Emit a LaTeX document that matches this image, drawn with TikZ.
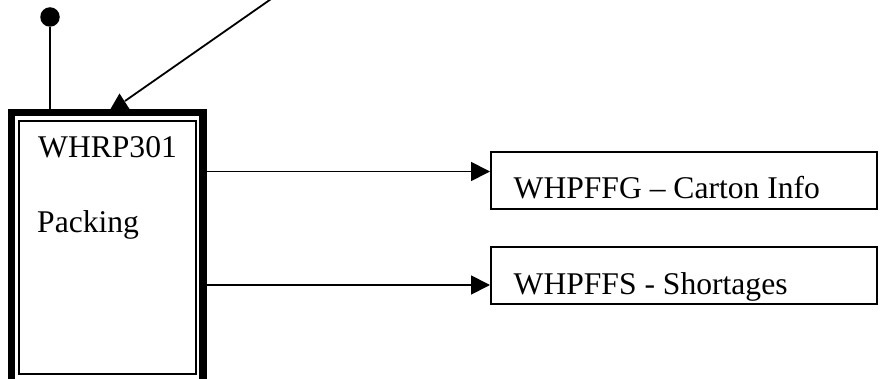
\documentclass[tikz,border=0pt]{standalone}
\usepackage{fontspec}
\setmainfont{Liberation Serif}
\usetikzlibrary{arrows.meta,calc}
\begin{document}
\begin{tikzpicture}[x=1pt,y=-1pt,
  lbl/.style={anchor=base west,inner sep=0pt,font=\fontsize{31.6}{36}\selectfont},
  outbox/.style={draw,line width=2pt,minimum width=386pt,minimum height=57pt,inner sep=0pt},
  conn/.style={line width=1.8pt},
  arr/.style={conn,-{Triangle[length=19pt,width=19pt]}}]
\useasboundingbox (0,0) rectangle (885,379);
\begin{scope}
\clip (0,0) rectangle (885,379);
% main packing box
\node (pack) [draw,line width=7.5pt,minimum width=191.5pt,minimum height=272.5pt,inner sep=0pt] at (107.25,248.75) {};
\draw[line width=2pt] (18.5,121) rectangle (195.5,373.5);
\node (t1) [lbl] at (38,157.5) {WHRP301};
\node (t2) [lbl] at (37,232.5) {Packing};
% output boxes
\node (carton) [outbox] at (684,180.5) {};
\node (ct) [lbl] at (513.5,199) {WHPFFG – Carton Info};
\node (short) [outbox] at (684,275.5) {};
\node (st) [lbl] at (513.5,294) {WHPFFS - Shortages};
\coordinate (c1) at ($(carton.west)+(0,-9)$);
\coordinate (s1) at ($(short.west)+(0,9.5)$);
\draw[arr] (pack.east |- c1) -- (c1);
\draw[arr] (pack.east |- s1) -- (s1);
% dot
\node (dot) [circle,fill,minimum size=19.5pt,inner sep=0pt] at (50,17) {};
\draw[conn] (dot) -- (dot |- pack.north);
% diagonal incoming
\coordinate (src) at (284,-10);
\coordinate (end) at (125,101);
\draw[conn] (src) -- (end);
\fill (110.5,109) -- (119.5,93.5) -- (129.5,109) -- cycle;
\end{scope}
\end{tikzpicture}
\end{document}
